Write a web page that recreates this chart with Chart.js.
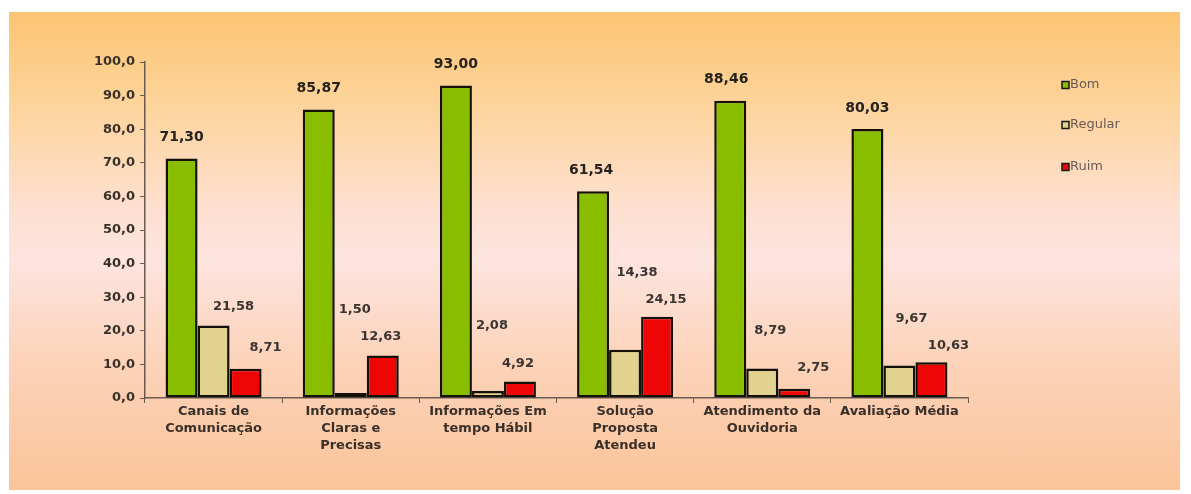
<!DOCTYPE html>
<html>
<head>
<meta charset="utf-8">
<script src="https://cdn.jsdelivr.net/npm/chart.js@4"></script>
<style>
    html, body { margin: 0; padding: 0; background: #ffffff; }
    #quadro {
        position: absolute; left: 9px; top: 12px; width: 1171px; height: 478px;
        background: linear-gradient(to bottom, #fcc473 0%, #fdd398 18%, #fde0d2 42%, #fde4de 52%, #fcd2b8 74%, #fbc49a 100%);
    }
    #grafico { position: absolute; left: 0; top: 0; }
</style>
</head>
<body>
<div id="quadro"></div>
<canvas id="grafico" width="1191" height="494"></canvas>
<script>
// =========================================
// DADOS DO GRÁFICO
// =========================================
const categorias = [
    ["Canais de", "Comunicação"],
    ["Informações", "Claras e", "Precisas"],
    ["Informações Em", "tempo Hábil"],
    ["Solução", "Proposta", "Atendeu"],
    ["Atendimento da", "Ouvidoria"],
    ["Avaliação Média"]
];
const bom     = [71.30, 85.87, 93.00, 61.54, 88.46, 80.03];
const regular = [21.58, 1.50, 2.08, 14.38, 8.79, 9.67];
const ruim    = [8.71, 12.63, 4.92, 24.15, 2.75, 10.63];
const ticksY  = [0, 10, 20, 30, 40, 50, 60, 70, 80, 90, 100];

// deslocamento dos rótulos de valor (em px, relativo ao topo da barra)
const rotuloDx = [
    [0, 0, 0, -2, -4, 0],
    [20, 4, 4, 12, 8, 12],
    [20, -2, -2, 9, 19, 17]
];
const rotuloDy = [
    [-21, -21, -21, -21, -21, -21],
    [-19, -83, -65, -77, -38, -47],
    [-21, -19, -18, -17, -21, -17]
];

// formata número com vírgula decimal
function virgula(v, casas) {
    return v.toFixed(casas).replace(".", ",");
}

// =========================================
// PLUGIN: RÓTULOS DE VALOR
// =========================================
const rotulosValor = {
    id: "rotulosValor",
    afterDatasetsDraw(chart) {
        const ctx = chart.ctx;
        ctx.save();
        ctx.textAlign = "center";
        ctx.textBaseline = "middle";
        chart.data.datasets.forEach((ds, i) => {
            const meta = chart.getDatasetMeta(i);
            ctx.font = i === 0 ? "bold 14px 'DejaVu Sans'" : "bold 13px 'DejaVu Sans'";
            ctx.fillStyle = i === 0 ? "#262220" : "#3a3430";
            meta.data.forEach((el, j) => {
                ctx.fillText(virgula(ds.data[j], 2), el.x + rotuloDx[i][j], el.y + rotuloDy[i][j]);
            });
        });
        ctx.restore();
    }
};

// =========================================
// PLUGIN: LEGENDA À DIREITA
// =========================================
const legendaLateral = {
    id: "legendaLateral",
    afterDraw(chart) {
        const ctx = chart.ctx;
        const ys = [85, 125, 167];
        ctx.save();
        ctx.font = "13px 'DejaVu Sans'";
        ctx.textBaseline = "middle";
        chart.data.datasets.forEach((ds, i) => {
            ctx.fillStyle = ds.backgroundColor;
            ctx.fillRect(1062, ys[i] - 3.5, 7, 7);
            ctx.strokeStyle = "#1a1a1a";
            ctx.lineWidth = 1.5;
            ctx.strokeRect(1062, ys[i] - 3.5, 7, 7);
            ctx.fillStyle = "#6a5a52";
            ctx.fillText(ds.label, 1070, ys[i]);
        });
        ctx.restore();
    }
};

// =========================================
// CRIAÇÃO DO GRÁFICO
// =========================================
const el = document.getElementById("grafico");
new Chart(el, {
    type: "bar",
    data: {
        labels: categorias,
        datasets: [
            { label: "Bom", data: bom, backgroundColor: "#88bd00" },
            { label: "Regular", data: regular, backgroundColor: "#e2d290" },
            { label: "Ruim", data: ruim, backgroundColor: "#ee0606" }
        ]
    },
    options: {
        responsive: false,
        animation: false,
        layout: { padding: { top: 62, right: 223, left: 0, bottom: 0 } },
        datasets: {
            bar: {
                categoryPercentage: 0.7,
                barPercentage: 1.0,
                borderColor: "#141208",
                borderWidth: 2.5,
                borderSkipped: false
            }
        },
        plugins: {
            legend: { display: false },
            tooltip: { enabled: false }
        },
        scales: {
            x: {
                grid: { drawOnChartArea: false, color: "#6a5a50", tickLength: 5, offset: true },
                border: { color: "#6a5a50", width: 1.5 },
                ticks: {
                    color: "#3a302a",
                    font: { family: "DejaVu Sans", size: 13, weight: "bold", lineHeight: 1.3 },
                    padding: 0,
                    maxRotation: 0,
                    autoSkip: false
                },
                afterFit(scale) { scale.height = 96; }
            },
            y: {
                min: 0,
                max: 100,
                afterBuildTicks(scale) { scale.ticks = ticksY.map(v => ({ value: v })); },
                grid: { drawOnChartArea: false, color: "#6a5a50", tickLength: 5 },
                border: { color: "#6a5a50", width: 1.5 },
                ticks: {
                    color: "#3a302a",
                    font: { family: "DejaVu Sans", size: 13, weight: "bold" },
                    padding: 5,
                    callback: v => virgula(v, 1)
                },
                afterFit(scale) { scale.width = 145; }
            }
        }
    },
    plugins: [rotulosValor, legendaLateral]
});
</script>
</body>
</html>
